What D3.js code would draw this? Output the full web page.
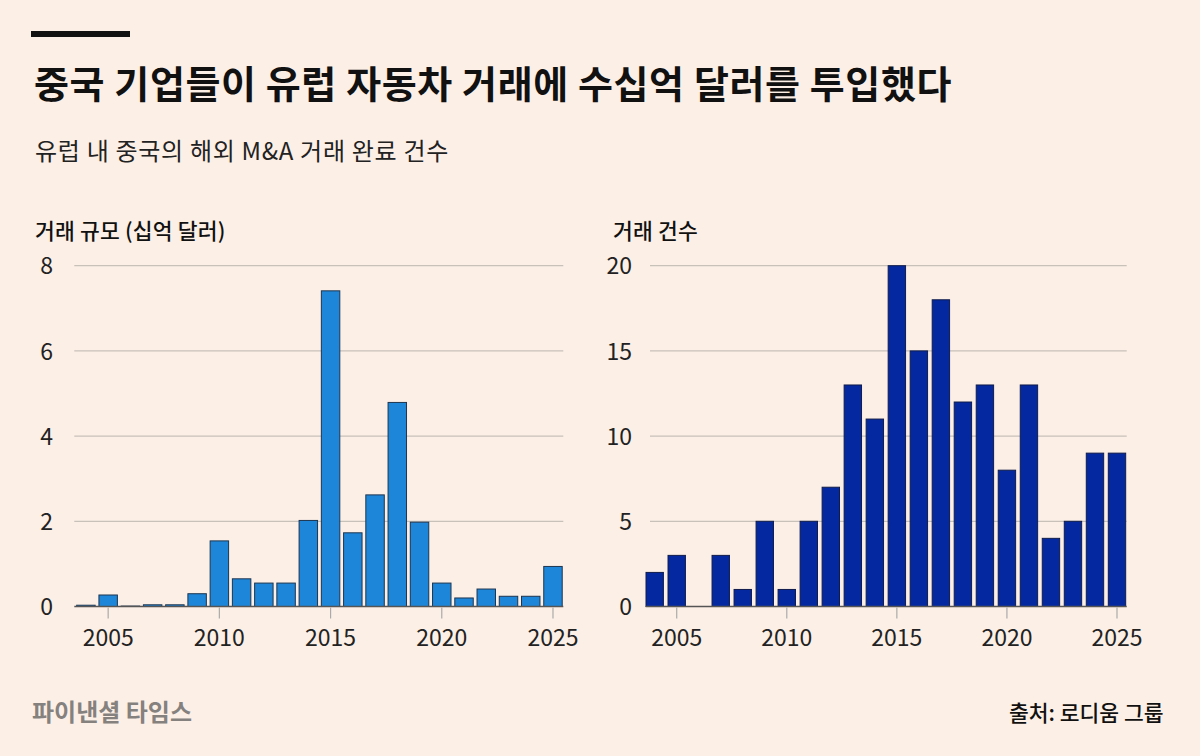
<!DOCTYPE html>
<html><head><meta charset="utf-8">
<script src="https://cdn.jsdelivr.net/npm/d3@7"></script>
<style>
html,body{margin:0;padding:0;background:#fcefe6;}
svg{display:block;font-family:"Noto Sans CJK KR","Noto Sans",sans-serif;}
</style></head>
<body>
<svg id="c" width="1200" height="756"></svg>
<script>
const years = d3.range(2004, 2026);
const dealValue = [0.03,0.27,0.01,0.04,0.04,0.30,1.54,0.65,0.55,0.55,2.02,7.41,1.73,2.62,4.79,1.98,0.55,0.20,0.41,0.24,0.24,0.94];
const dealCount = [2,3,0,3,1,5,1,5,7,13,11,20,15,18,12,13,8,13,4,5,9,9];
const valueTicks = [0,2,4,6,8];
const countTicks = [0,5,10,15,20];
const yearTicks = [2005,2010,2015,2020,2025];

const title = "중국 기업들이 유럽 자동차 거래에 수십억 달러를 투입했다";
const subtitle = "유럽 내 중국의 해외 M&A 거래 완료 건수";
const leftLabel = "거래 규모 (십억 달러)";
const rightLabel = "거래 건수";
const footerLeft = "파이낸셜 타임스";
const footerRight = "출처: 로디움 그룹";

const svg = d3.select("#c");
svg.append("rect").attr("width",1200).attr("height",756).attr("fill","#fcefe6");
svg.append("rect").attr("x",31).attr("y",31).attr("width",99).attr("height",6).attr("fill","#111");

svg.append("text").attr("x",34).attr("y",98).attr("font-size",38).attr("font-weight",700)
  .attr("letter-spacing",0.6).attr("fill","#111").text(title);
svg.append("text").attr("x",35).attr("y",160).attr("font-size",24).attr("font-weight",400)
  .attr("letter-spacing",0.7).attr("fill","#222").text(subtitle);

function panel(opts){
  const {data, ticks, yMax, xRange, pi, po, lineX, gridX, labelX, label, labelPos, fill, stroke} = opts;
  const x = d3.scaleBand().domain(years).range(xRange).paddingInner(pi).paddingOuter(po);
  const y = d3.scaleLinear().domain([0,yMax]).range([606.5,265.7]);
  const g = svg.append("g");
  g.append("text").attr("x",labelPos).attr("y",239).attr("font-size",21.5).attr("font-weight",500)
    .attr("letter-spacing",0.2).attr("fill","#111").text(label);
  g.selectAll("line.grid").data(ticks.filter(t=>t>0)).join("line")
    .attr("x1",gridX[0]).attr("x2",gridX[1])
    .attr("y1",d=>y(d)).attr("y2",d=>y(d))
    .attr("stroke","#c8c1ba").attr("stroke-width",1.2);
  g.selectAll("text.yl").data(ticks).join("text")
    .attr("x",labelX).attr("y",d=>y(d)).attr("dy","0.38em")
    .attr("text-anchor","end").attr("font-size",23).attr("fill","#222").text(d=>d);
  g.selectAll("rect.bar").data(years.map((yr,i)=>({yr,v:data[i]}))).join("rect")
    .attr("x",d=>x(d.yr)).attr("width",x.bandwidth())
    .attr("y",d=>y(d.v)).attr("height",d=>y(0)-y(d.v))
    .attr("fill",fill).attr("stroke",stroke).attr("stroke-width",1);
  g.append("line").attr("x1",lineX[0]).attr("x2",lineX[1]).attr("y1",y(0)).attr("y2",y(0))
    .attr("stroke","#555").attr("stroke-width",1.3);
  const cx = d=>x(d)+x.bandwidth()/2;
  g.selectAll("line.xt").data(yearTicks).join("line")
    .attr("x1",cx).attr("x2",cx).attr("y1",y(0)+1).attr("y2",y(0)+12)
    .attr("stroke","#aaa").attr("stroke-width",1.2);
  g.selectAll("text.xl").data(yearTicks).join("text")
    .attr("x",cx).attr("y",646).attr("text-anchor","middle")
    .attr("font-size",23).attr("fill","#222").text(d=>d);
}

panel({data:dealValue, ticks:valueTicks, yMax:8, xRange:[74.8,564.1], pi:0.17, po:0.085,
  lineX:[74.3,563.3], gridX:[74.3,563.3], labelX:53, label:leftLabel, labelPos:35,
  fill:"#1e86d8", stroke:"#1d3550"});
panel({data:dealCount, ticks:countTicks, yMax:20, xRange:[643.7,1128], pi:0.21, po:0.105,
  lineX:[645.7,1126.7], gridX:[650,1126.7], labelX:632, label:rightLabel, labelPos:613,
  fill:"#0328a0", stroke:"#101c4a"});

svg.append("text").attr("x",32).attr("y",721).attr("font-size",24).attr("font-weight",700)
  .attr("fill","#85817e").text(footerLeft);
svg.append("text").attr("x",1163.5).attr("y",721).attr("text-anchor","end").attr("font-size",21.5)
  .attr("font-weight",500).attr("fill","#111").text(footerRight);
</script>
</body></html>
